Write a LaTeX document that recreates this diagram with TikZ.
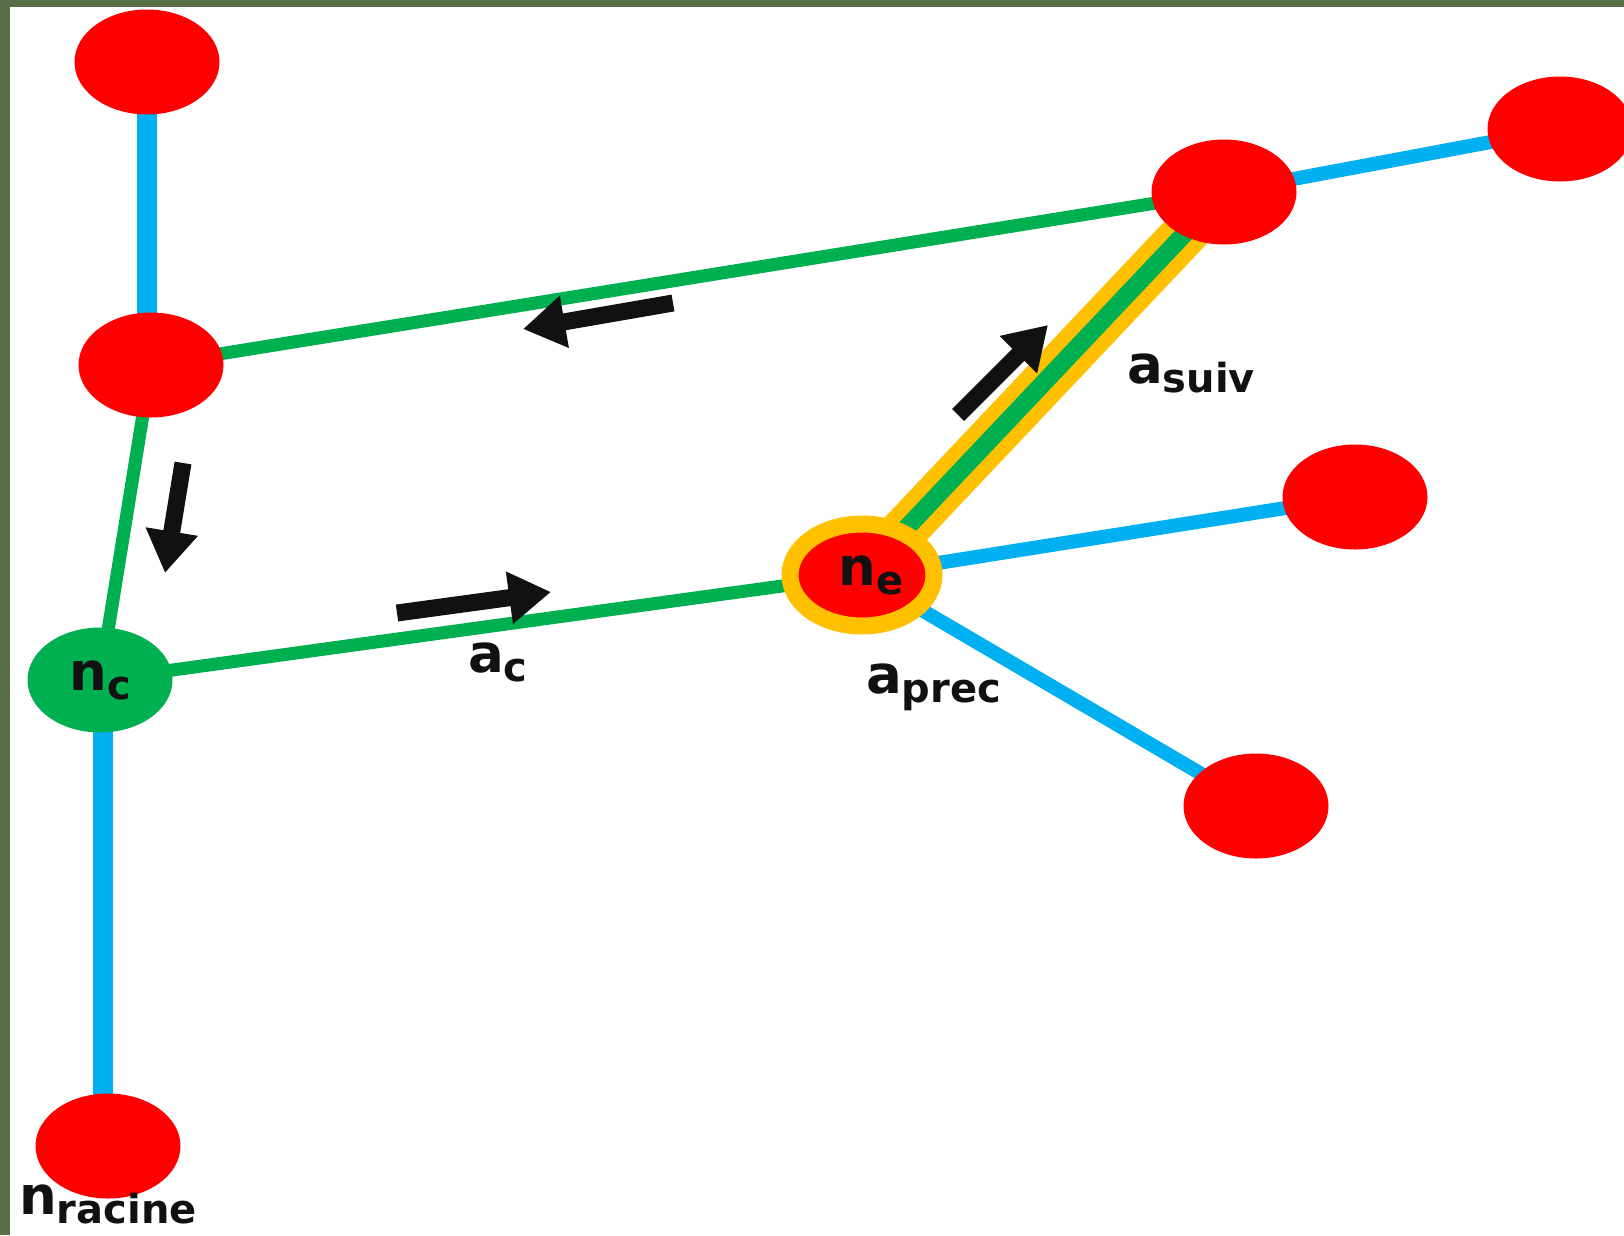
\documentclass[tikz,border=0pt]{standalone}
\usepackage{fontspec}
\setmainfont{DejaVu Sans}
\usetikzlibrary{shapes.geometric,arrows.meta,backgrounds}

\definecolor{nodered}{RGB}{255,0,0}
\definecolor{linkblue}{RGB}{0,176,240}
\definecolor{linkgreen}{RGB}{0,176,80}
\definecolor{ringorange}{RGB}{255,192,0}
\definecolor{framegreen}{RGB}{88,110,70}
\definecolor{ink}{RGB}{17,17,17}

% n_c, a_suiv ... : big letter with a lowered small word
\newcommand{\sublbl}[2]{{\fontsize{53}{53}\selectfont\bfseries #1}{\fontsize{40}{40}\selectfont\bfseries\raisebox{-9pt}{#2}}}

\tikzstyle{vertex}=[ellipse, fill=nodered, minimum width=145pt, minimum height=105pt, inner sep=0pt, text=ink]
\tikzstyle{thickblue} = [draw=linkblue, line width=20pt]
\tikzstyle{thinblue} = [draw=linkblue, line width=14pt]
\tikzstyle{walk} = [draw=linkgreen, line width=13pt]
\tikzstyle{move} = [draw=ink, line width=17pt, -{Triangle[width=50pt,length=42pt]}]
\tikzstyle{tag} = [text=ink, inner sep=0pt, anchor=base west]

\begin{document}
\begin{tikzpicture}[x=1pt, y=-1pt]
  \useasboundingbox (0,0) rectangle (1624,1235);

  \foreach \name/\pos in {top/{(147,62)}, left/{(151,365)}, root/{(108,1146)},
                          suiv/{(1224,192)}, far/{(1560,129)},
                          rmid/{(1355,497)}, rlow/{(1256,806)}}
        \node[vertex] (\name) at \pos {};
  \node[vertex, fill=linkgreen] (nc) at (100,680) {\sublbl{n}{c}};
  \node[vertex, draw=ringorange, line width=17pt, minimum width=144pt,
        minimum height=102pt] (ne) at (862,575) {\hspace*{18pt}\sublbl{n}{e}};

  \node[tag] (ac) at (468,672) {\sublbl{a}{c}};
  \node[tag] (asuiv) at (1127,383) {\sublbl{a}{suiv}};
  \node[tag] (aprec) at (866,693) {\sublbl{a}{prec}};
  \node[tag] (nroot) at (19,1214) {\sublbl{n}{racine}};

  % direction of the walk
  \coordinate (tail1) at (673,303);  \coordinate (tip1) at (523,329);
  \coordinate (tail2) at (183,463);  \coordinate (tip2) at (165,573);
  \coordinate (tail3) at (397,613);  \coordinate (tip3) at (551,592);
  \coordinate (tail4) at (958,415);  \coordinate (tip4) at (1048,325);
  \foreach \i in {1,2,3,4}
      \path[move] (tail\i) -- (tip\i);

  \begin{scope}[on background layer]
    \fill[white] (0,0) rectangle (1624,1235);
    \fill[framegreen] (0,0) rectangle (1624,7);
    \fill[framegreen] (0,0) rectangle (10,1235);

    \path[thickblue] (top.center) -- (top.center |- left.center);
    \path[thickblue] ([xshift=3pt]nc.center) -- ([xshift=3pt]nc.center |- root.center);
    \foreach \a/\b in {suiv/far, ne/rmid, ne/rlow}
        \path[thinblue] (\a.center) -- (\b.center);
    \foreach \a/\b in {left/suiv, left/nc, nc/ne}
        \path[walk] (\a.center) -- (\b.center);
    \path[draw=ringorange, line width=46pt] (ne.center) -- (suiv.center);
    \path[walk, line width=18pt] (ne.center) -- (suiv.center);
  \end{scope}
\end{tikzpicture}
\end{document}
